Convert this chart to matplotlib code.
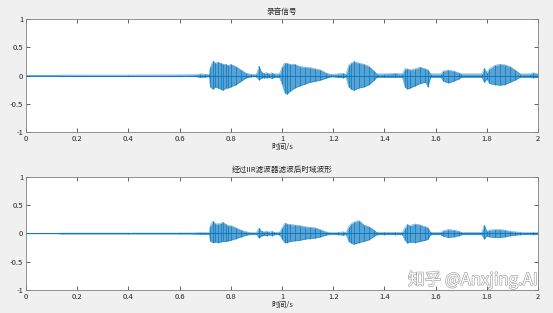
import matplotlib
matplotlib.use("Agg")
import matplotlib.pyplot as plt
import matplotlib.patheffects as pe

plt.rcParams['font.family'] = ['Noto Sans CJK SC', 'DejaVu Sans']

t_raw = [0.00, 0.13, 0.14, 0.40, 0.60, 0.66, 0.68, 0.70, 0.715, 0.72, 0.73, 0.74, 0.75, 0.76,
         0.77, 0.78, 0.79, 0.80, 0.82, 0.84, 0.86, 0.88, 0.90, 0.91, 0.92, 0.93, 0.94, 0.95,
         0.96, 0.97, 0.99, 1.00, 1.01, 1.02, 1.03, 1.05, 1.07, 1.09, 1.11, 1.13, 1.15, 1.17,
         1.19, 1.22, 1.24, 1.25, 1.26, 1.27, 1.28, 1.30, 1.32, 1.34, 1.36, 1.37, 1.40, 1.44,
         1.47, 1.48, 1.49, 1.50, 1.52, 1.54, 1.56, 1.57, 1.58, 1.62, 1.63, 1.65, 1.67, 1.69,
         1.70, 1.78, 1.79, 1.80, 1.81, 1.83, 1.85, 1.87, 1.89, 1.91, 1.93, 1.97, 1.98, 2.00]
up_raw = [0.004, 0.005, 0.010, 0.010, 0.012, 0.015, 0.030, 0.025, 0.020, 0.15, 0.26, 0.22, 0.24, 0.22,
          0.20, 0.20, 0.18, 0.20, 0.16, 0.10, 0.04, 0.02, 0.02, 0.17, 0.06, 0.04, 0.05, 0.03,
          0.05, 0.03, 0.03, 0.15, 0.22, 0.22, 0.20, 0.20, 0.16, 0.15, 0.14, 0.12, 0.10, 0.05,
          0.02, 0.03, 0.04, 0.02, 0.18, 0.22, 0.25, 0.22, 0.20, 0.16, 0.08, 0.03, 0.03, 0.04,
          0.03, 0.12, 0.12, 0.10, 0.12, 0.15, 0.12, 0.10, 0.03, 0.03, 0.08, 0.10, 0.08, 0.05,
          0.03, 0.03, 0.13, 0.05, 0.12, 0.18, 0.20, 0.19, 0.16, 0.10, 0.03, 0.03, 0.05, 0.03]
lo_raw = [-0.004, -0.005, -0.010, -0.012, -0.014, -0.015, -0.030, -0.025, -0.020, -0.20, -0.24, -0.20, -0.22, -0.24,
          -0.26, -0.22, -0.22, -0.20, -0.16, -0.10, -0.04, -0.02, -0.02, -0.08, -0.04, -0.04, -0.04, -0.03,
          -0.05, -0.03, -0.03, -0.15, -0.30, -0.33, -0.28, -0.22, -0.18, -0.15, -0.12, -0.10, -0.08, -0.05,
          -0.02, -0.03, -0.04, -0.02, -0.20, -0.24, -0.26, -0.22, -0.20, -0.16, -0.08, -0.03, -0.03, -0.03,
          -0.03, -0.20, -0.24, -0.22, -0.18, -0.14, -0.12, -0.20, -0.03, -0.03, -0.10, -0.13, -0.10, -0.06,
          -0.03, -0.03, -0.12, -0.06, -0.14, -0.16, -0.17, -0.16, -0.12, -0.08, -0.03, -0.03, -0.04, -0.03]

# Envelope of the IIR-filtered signal
t_flt = [0.00, 0.13, 0.14, 0.40, 0.60, 0.66, 0.68, 0.70, 0.715, 0.72, 0.73, 0.74, 0.75, 0.76,
         0.77, 0.78, 0.79, 0.80, 0.82, 0.84, 0.86, 0.88, 0.90, 0.91, 0.92, 0.93, 0.94, 0.95,
         0.96, 0.97, 0.99, 1.00, 1.01, 1.02, 1.03, 1.05, 1.07, 1.09, 1.11, 1.13, 1.15, 1.17,
         1.19, 1.22, 1.24, 1.25, 1.26, 1.27, 1.28, 1.30, 1.32, 1.34, 1.36, 1.37, 1.40, 1.44,
         1.47, 1.48, 1.49, 1.50, 1.52, 1.54, 1.56, 1.57, 1.58, 1.62, 1.63, 1.65, 1.67, 1.69,
         1.70, 1.78, 1.79, 1.80, 1.81, 1.83, 1.85, 1.87, 1.89, 1.91, 1.93, 1.97, 1.98, 2.00]
up_flt = [0.003, 0.004, 0.008, 0.008, 0.009, 0.010, 0.015, 0.015, 0.012, 0.14, 0.22, 0.17, 0.17, 0.18,
          0.20, 0.16, 0.14, 0.14, 0.10, 0.06, 0.03, 0.015, 0.015, 0.10, 0.04, 0.03, 0.04, 0.02,
          0.04, 0.02, 0.02, 0.10, 0.18, 0.17, 0.16, 0.15, 0.14, 0.12, 0.11, 0.10, 0.07, 0.03,
          0.015, 0.02, 0.03, 0.015, 0.12, 0.17, 0.20, 0.23, 0.15, 0.12, 0.06, 0.02, 0.02, 0.02,
          0.02, 0.10, 0.16, 0.14, 0.17, 0.15, 0.12, 0.10, 0.02, 0.02, 0.05, 0.07, 0.06, 0.04,
          0.02, 0.02, 0.15, 0.04, 0.06, 0.07, 0.07, 0.06, 0.04, 0.03, 0.02, 0.015, 0.02, 0.015]
lo_flt = [-0.003, -0.004, -0.008, -0.008, -0.009, -0.010, -0.015, -0.015, -0.012, -0.14, -0.16, -0.15, -0.16, -0.15,
          -0.14, -0.14, -0.13, -0.12, -0.09, -0.06, -0.03, -0.015, -0.015, -0.08, -0.04, -0.03, -0.04, -0.02,
          -0.04, -0.02, -0.02, -0.10, -0.16, -0.16, -0.14, -0.13, -0.12, -0.10, -0.09, -0.08, -0.06, -0.03,
          -0.015, -0.02, -0.03, -0.015, -0.14, -0.17, -0.19, -0.16, -0.14, -0.11, -0.05, -0.02, -0.02, -0.02,
          -0.02, -0.12, -0.17, -0.15, -0.16, -0.14, -0.12, -0.10, -0.02, -0.02, -0.05, -0.07, -0.06, -0.04,
          -0.02, -0.02, -0.10, -0.04, -0.06, -0.07, -0.07, -0.06, -0.04, -0.03, -0.02, -0.015, -0.02, -0.015]

x_ticks = [0, 0.2, 0.4, 0.6, 0.8, 1, 1.2, 1.4, 1.6, 1.8, 2]
x_ticklabels = ['0', '0.2', '0.4', '0.6', '0.8', '1', '1.2', '1.4', '1.6', '1.8', '2']
y_ticks = [-1, -0.5, 0, 0.5, 1]
y_ticklabels = ['-1', '-0.5', '0', '0.5', '1']
titles = ['录音信号', '经过IIR滤波器滤波后时域波形']
xlabel = '时间/s'
watermark = '知乎 @Anxjing.AI'

LINE = '#0072BD'
TXT = '#262626'

fig = plt.figure(figsize=(5.53, 3.13), dpi=100, facecolor='#f0f0f0')
rects = [[0.047, 0.578, 0.926, 0.361], [0.047, 0.0735, 0.926, 0.361]]
data = [(t_raw, up_raw, lo_raw), (t_flt, up_flt, lo_flt)]

for rect, (t, u, l), title in zip(rects, data, titles):
    ax = fig.add_axes(rect)
    ax.set_facecolor('white')
    ax.fill_between(t, l, u, color=LINE, alpha=0.65, linewidth=0)
    ax.vlines(t, l, u, color=LINE, linewidth=0.5, alpha=0.9)
    ax.plot(t, u, color=LINE, linewidth=0.3, alpha=0.8)
    ax.plot(t, l, color=LINE, linewidth=0.3, alpha=0.8)
    ax.plot([t[0], t[-1]], [0, 0], color=LINE, linewidth=0.6)
    ax.set_xlim(0, 2)
    ax.set_ylim(-1, 1)
    ax.set_xticks(x_ticks)
    ax.set_xticklabels(x_ticklabels)
    ax.set_yticks(y_ticks)
    ax.set_yticklabels(y_ticklabels)
    ax.tick_params(direction='in', length=3, width=0.5, labelsize=5.5, colors=TXT,
                   top=True, right=True, pad=2)
    for s in ax.spines.values():
        s.set_color('#808080')
        s.set_linewidth(0.6)
    ax.set_title(title, fontsize=5.5, color=TXT, pad=4)
    ax.set_xlabel(xlabel, fontsize=5.5, color=TXT, labelpad=0)

fig.text(0.972, 0.077, watermark, ha='right', va='bottom', fontsize=12, color='white',
         path_effects=[pe.withStroke(linewidth=0.9, foreground='#a0a0a0')])

fig.savefig('out.png', dpi=100, facecolor=fig.get_facecolor())
